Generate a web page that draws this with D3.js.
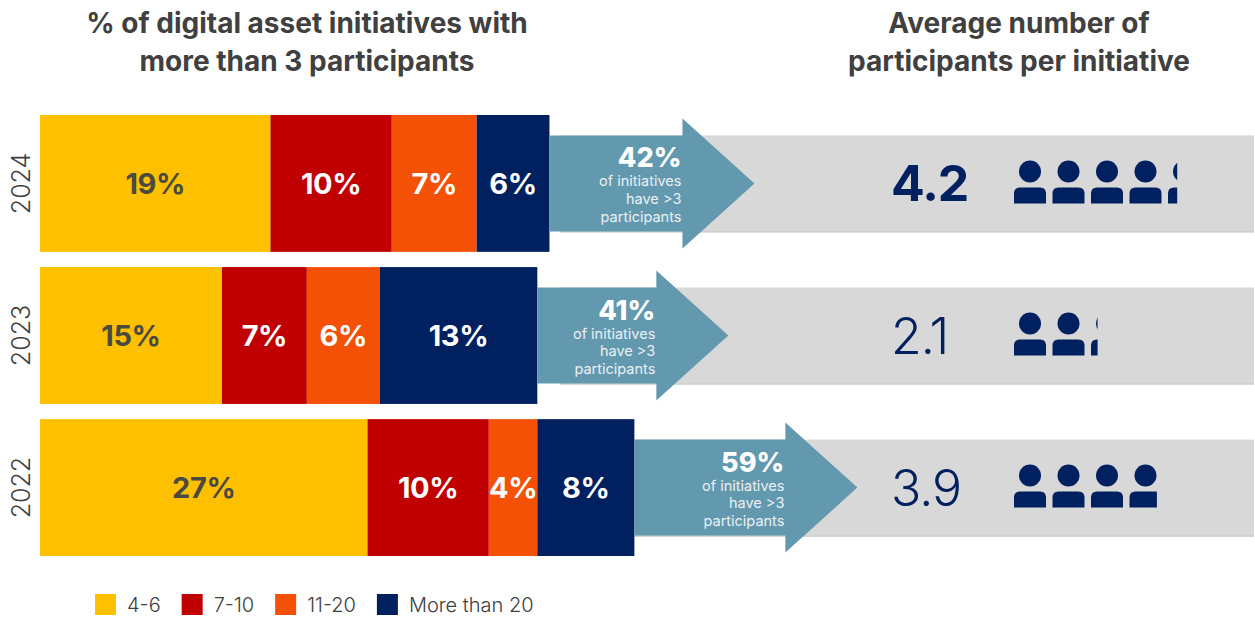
<!DOCTYPE html>
<html>
<head>
<meta charset="utf-8">
<script src="https://cdn.jsdelivr.net/npm/d3@7/dist/d3.min.js"></script>
<style>
  html, body { margin: 0; padding: 0; background: #fff; }
  svg { display: block; font-family: Inter, "Open Sans", sans-serif; }
</style>
</head>
<body>
<svg id="chart" width="1255" height="618"></svg>
<script>
// Participation buckets per year
const years = ["2024", "2023", "2022"];
const buckets = ["4-6", "7-10", "11-20", "More than 20"];
const share4to6 = [19, 15, 27];
const share7to10 = [10, 7, 10];
const share11to20 = [7, 6, 4];
const shareOver20 = [6, 13, 8];
const statedShare = [42, 41, 59];
const avgParticipants = [4.2, 2.1, 3.9];
const bucketColors = ["#FFC000", "#C00000", "#F45106", "#002060"];
const titleLeft = ["% of digital asset initiatives with", "more than 3 participants"];
const titleRight = ["Average number of", "participants per initiative"];
const calloutLines = ["of initiatives", "have >3", "participants"];

// Arrow shaft length and the heavier weight used for the current year's average
const arrowShaft = [133, 119, 151];
const avgWeight = [700, 300, 300];

const svg = d3.select("#chart");
const rows = years.map((year, i) => ({
  year,
  "4-6": share4to6[i],
  "7-10": share7to10[i],
  "11-20": share11to20[i],
  "More than 20": shareOver20[i]
}));

const x = d3.scaleLinear().domain([0, 10]).range([40, 161.3]);
const y = d3.scaleBand().domain(years).range([115, 556]).paddingInner(0.1);
const color = d3.scaleOrdinal().domain(buckets).range(bucketColors);
const stacked = d3.stack().keys(buckets)(rows);

// Grey bands behind the averages
const bandHeight = 96;
const rowMid = yr => y(yr) + y.bandwidth() / 2;
svg.append("g").selectAll("rect").data(years).join("rect")
  .attr("x", 560)
  .attr("y", d => rowMid(d) - bandHeight / 2)
  .attr("width", 694)
  .attr("height", bandHeight)
  .attr("fill", "#D8D8D8");
svg.append("g").selectAll("line").data(years).join("line")
  .attr("x1", 560).attr("x2", 1254)
  .attr("y1", d => rowMid(d) + bandHeight / 2 + 0.5)
  .attr("y2", d => rowMid(d) + bandHeight / 2 + 0.5)
  .attr("stroke", "#B4B4B4");

// Stacked bars
const layers = svg.append("g").selectAll("g").data(stacked).join("g")
  .attr("fill", d => color(d.key));
layers.selectAll("rect").data(d => d).join("rect")
  .attr("x", d => x(d[0]))
  .attr("y", d => y(d.data.year))
  .attr("width", d => x(d[1]) - x(d[0]))
  .attr("height", y.bandwidth());

// Bar value labels
layers.selectAll("text").data(d => d.map(v => Object.assign({ key: d.key }, { v }))).join("text")
  .attr("x", d => (x(d.v[0]) + x(d.v[1])) / 2)
  .attr("y", d => rowMid(d.v.data.year))
  .attr("dy", "0.36em")
  .attr("text-anchor", "middle")
  .attr("font-size", 29)
  .attr("font-weight", 700)
  .attr("letter-spacing", -0.4)
  .attr("fill", d => d.key === "4-6" ? "#4A4A42" : "#FFFFFF")
  .text(d => `${d.v[1] - d.v[0]}%`);

// Arrows running from the end of each bar into its band
const arrows = svg.append("g").selectAll("g").data(years).join("g");
const barEnd = i => x(share4to6[i] + share7to10[i] + share11to20[i] + shareOver20[i]);
arrows.append("path")
  .attr("fill", "#6399AF")
  .attr("d", (d, i) => {
    const p = d3.path();
    const m = rowMid(d), s = barEnd(i), h = s + arrowShaft[i];
    p.moveTo(s, m - 48);
    p.lineTo(h, m - 48);
    p.lineTo(h, m - 65);
    p.lineTo(h + 72, m);
    p.lineTo(h, m + 65);
    p.lineTo(h, m + 48);
    p.lineTo(s, m + 48);
    p.closePath();
    return p.toString();
  });
arrows.append("text")
  .attr("x", (d, i) => barEnd(i) + arrowShaft[i] - 1)
  .attr("y", d => rowMid(d) - 16)
  .attr("text-anchor", "end")
  .attr("font-size", 27)
  .attr("font-weight", 800)
  .attr("fill", "#FFFFFF")
  .text((d, i) => `${statedShare[i]}%`);
calloutLines.forEach((line, k) => {
  arrows.append("text")
    .attr("x", (d, i) => barEnd(i) + arrowShaft[i] - 1)
    .attr("y", d => rowMid(d) + 3 + k * 17.7)
    .attr("text-anchor", "end")
    .attr("font-size", 14.5)
    .attr("font-weight", 400)
    .attr("fill", "#EAF0F3")
    .text(line);
});

// Average participant counts
svg.append("g").selectAll("text").data(years).join("text")
  .attr("x", 891)
  .attr("y", d => rowMid(d))
  .attr("dy", "0.36em")
  .attr("font-size", 50)
  .attr("font-weight", (d, i) => avgWeight[i])
  .attr("letter-spacing", -1)
  .attr("fill", "#002060")
  .text((d, i) => avgParticipants[i].toFixed(1));

// Pictogram: whole figures plus a partial one cut off by the fraction
const iconStart = 1014, iconPitch = 38.5, iconWidth = 32;
const partial = d3.scaleLinear().domain([0, 1]).range([4, 30]);
const defs = svg.append("defs");
years.forEach((year, i) => {
  const value = avgParticipants[i];
  const whole = Math.floor(value);
  const clipEnd = iconStart + whole * iconPitch + partial(value - whole);
  const id = `clip-${year}`;
  defs.append("clipPath").attr("id", id).append("rect")
    .attr("x", iconStart - 2).attr("y", y(year))
    .attr("width", clipEnd - iconStart + 2).attr("height", y.bandwidth());
  const g = svg.append("g").attr("clip-path", `url(#${id})`).attr("fill", "#002060");
  d3.range(whole + 1).forEach(n => {
    const left = iconStart + n * iconPitch;
    const m = rowMid(year);
    g.append("circle")
      .attr("cx", left + iconWidth / 2).attr("cy", m - 12).attr("r", 11);
    const top = m + 4, bottom = m + 20, r = 6;
    g.append("path").attr("d",
      `M${left},${bottom}V${top + r}Q${left},${top} ${left + r},${top}` +
      `H${left + iconWidth - r}Q${left + iconWidth},${top} ${left + iconWidth},${top + r}` +
      `V${bottom}Z`);
  });
});

// Year labels along the left edge
svg.append("g").selectAll("text").data(years).join("text")
  .attr("transform", d => `translate(21,${rowMid(d)}) rotate(-90)`)
  .attr("dy", "0.36em")
  .attr("text-anchor", "middle")
  .attr("font-size", 25)
  .attr("font-weight", 300)
  .attr("fill", "#404040")
  .text(d => d);

// Column headings
const heading = (lines, cx) => lines.forEach((line, k) => {
  svg.append("text")
    .attr("x", cx).attr("y", 33 + k * 38)
    .attr("text-anchor", "middle")
    .attr("font-size", 28)
    .attr("font-weight", 700)
    .attr("fill", "#404040")
    .text(line);
});
heading(titleLeft, 307);
heading(titleRight, 1019);

// Legend
let lx = 95;
const legend = svg.append("g");
buckets.forEach(name => {
  legend.append("rect")
    .attr("x", lx).attr("y", 594).attr("width", 21).attr("height", 21)
    .attr("fill", color(name));
  const t = legend.append("text")
    .attr("x", lx + 32).attr("y", 604.5)
    .attr("dy", "0.36em")
    .attr("font-size", 20)
    .attr("font-weight", 300)
    .attr("fill", "#404040")
    .text(name);
  lx += 32 + t.node().getComputedTextLength() + 21;
});
</script>
</body>
</html>
